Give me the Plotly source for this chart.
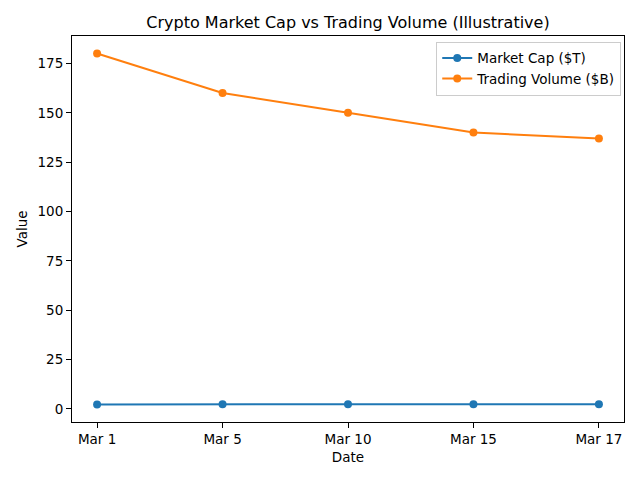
import plotly.graph_objects as go

dates = ["Mar 1", "Mar 5", "Mar 10", "Mar 15", "Mar 17"]
market_cap = [2.3, 2.4, 2.4, 2.4, 2.4]
trading_volume = [180, 160, 150, 140, 137]
y_ticks = [0, 25, 50, 75, 100, 125, 150, 175]

x_idx = list(range(len(dates)))

fig = go.Figure()
fig.add_trace(go.Scatter(x=x_idx, y=market_cap, mode="lines+markers", name="Market Cap ($T)",
                         line=dict(color="#1f77b4", width=2), marker=dict(size=8, color="#1f77b4")))
fig.add_trace(go.Scatter(x=x_idx, y=trading_volume, mode="lines+markers", name="Trading Volume ($B)",
                         line=dict(color="#ff7f0e", width=2), marker=dict(size=8, color="#ff7f0e")))

axis_common = dict(showline=True, linecolor="black", linewidth=1, mirror=True,
                   ticks="outside", ticklen=5, tickcolor="black", showgrid=False, zeroline=False,
                   tickfont=dict(size=13.5, color="black"), automargin=False)

fig.update_layout(
    width=640, height=480,
    paper_bgcolor="white", plot_bgcolor="white",
    font=dict(family="DejaVu Sans", color="black"),
    margin=dict(l=64, r=24, t=28, b=66),
    title=dict(text="Crypto Market Cap vs Trading Volume (Illustrative)", x=0.5, xanchor="center",
               xref="paper", y=1 - 14 / 480, yanchor="middle", font=dict(size=16, color="black")),
    xaxis=dict(range=[-0.2, 4.2], tickmode="array", tickvals=x_idx, ticktext=dates,
               title=dict(text="Date", font=dict(size=13.5), standoff=6), **axis_common),
    yaxis=dict(range=[-6.6, 188.9], tickmode="array", tickvals=y_ticks,
               title=dict(text="Value", font=dict(size=13.5), standoff=6), **axis_common),
    legend=dict(x=0.995, y=0.985, xanchor="right", yanchor="top", bgcolor="rgba(255,255,255,0.8)",
                bordercolor="#cccccc", borderwidth=1, font=dict(size=13.5)),
    showlegend=True,
)

fig.write_html("out.html")
